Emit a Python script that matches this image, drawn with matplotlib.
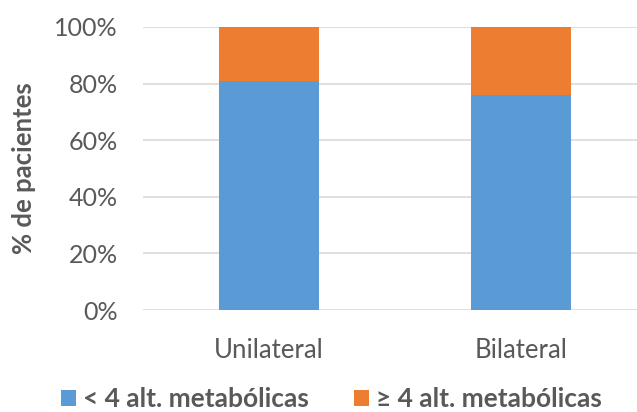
import matplotlib
matplotlib.use("Agg")
import matplotlib.pyplot as plt
from matplotlib.ticker import PercentFormatter

categories = ["Unilateral", "Bilateral"]
menos_4 = [81, 76]       # % pacientes con < 4 alteraciones metabólicas
mas_4 = [19, 24]         # % pacientes con >= 4 alteraciones metabólicas
yticks = [0, 20, 40, 60, 80, 100]

BLUE = "#5B9BD5"
ORANGE = "#ED7D31"
TEXT = "#595959"

plt.rcParams["font.family"] = ["Lato", "DejaVu Sans"]

fig = plt.figure(figsize=(6.37, 4.12), dpi=100)
ax = fig.add_axes([143 / 637, 1 - 310 / 412, 504 / 637, (310 - 27) / 412])

x = range(len(categories))
ax.bar(x, menos_4, width=0.397, color=BLUE, label="< 4 alt. metabólicas", zorder=3)
ax.bar(x, mas_4, width=0.397, bottom=menos_4, color=ORANGE,
       label="≥ 4 alt. metabólicas", zorder=3)

ax.set_xlim(-0.5, 1.5)
ax.set_ylim(0, 100)
ax.set_yticks(yticks)
ax.yaxis.set_major_formatter(PercentFormatter(decimals=0))
ax.set_xticks(list(x))
ax.set_xticklabels(categories, fontsize=18.5)
ax.grid(axis="y", color="#d9d9d9", linewidth=1.2, zorder=0)
for s in ax.spines.values():
    s.set_visible(False)
ax.tick_params(length=0, colors=TEXT)
ax.tick_params(axis="y", labelsize=18, pad=18)
ax.tick_params(axis="x", pad=20)

ax.set_ylabel("% de pacientes", fontsize=18.5, fontweight="bold", color=TEXT, labelpad=13)

fig.legend(loc="center", bbox_to_anchor=(0.52, 1 - 399 / 412), ncol=2, frameon=False,
           prop={"weight": "bold", "size": 19}, labelcolor=TEXT,
           handlelength=0.57, handleheight=0.57, handletextpad=0.27, columnspacing=1.7)

fig.savefig("out.png", dpi=100)
